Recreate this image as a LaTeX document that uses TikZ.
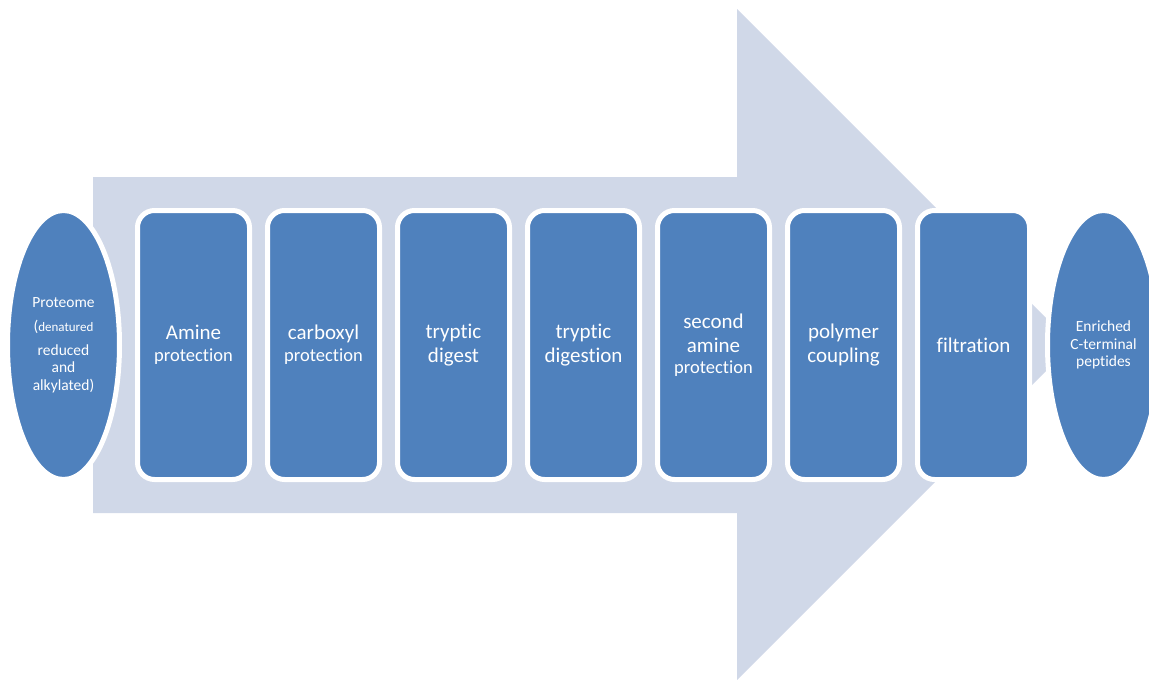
\documentclass[tikz,border=0pt]{standalone}
\usepackage{fontspec}
\setmainfont{Carlito}[Ligatures=NoCommon]
\usetikzlibrary{shapes.geometric}
\definecolor{stepblue}{HTML}{4F81BD}
\definecolor{flowgrey}{HTML}{D0D8E8}
\newcommand{\bigtxt}{\fontsize{21}{24}\selectfont}
\newcommand{\midtxt}{\fontsize{18.5}{22}\selectfont}
\newcommand{\ovaltxt}{\fontsize{15.5}{17.5}\selectfont}
\begin{document}
\begin{tikzpicture}[x=1pt,y=-1pt,
  stepbox/.style={rectangle, rounded corners=17pt, fill=stepblue, draw=white,
    line width=5pt, minimum width=112pt, minimum height=269pt, inner sep=0pt,
    text=white, align=center, font=\bigtxt},
  endoval/.style={ellipse, fill=stepblue, draw=white, line width=5pt,
    minimum width=112pt, minimum height=269pt, inner sep=0pt,
    text=white, align=center, font=\ovaltxt}]
\useasboundingbox (0,0) rectangle (1149,680);
% large process arrow behind the steps
\fill[flowgrey] (93,177) -- (737,177) -- (737,9) -- (1072.5,344.5)
  -- (737,680) -- (737,513) -- (93,513) -- cycle;
% start and end of the workflow
\node[endoval] (start) at (63.5,345)
  {Proteome\\[6.5pt](\fontsize{13}{17.5}\selectfont denatured\\[6.5pt]reduced\\and\\alkylated)};
\node[endoval] (finish) at (1103.5,345) {Enriched\\C-terminal\\peptides};
% the processing steps
\node[stepbox] (s1) at (193.5,345) {Amine\\[-2pt]{\midtxt protection}};
\node[stepbox] (s2) at (323.5,345) {carboxyl\\[-2pt]{\midtxt protection}};
\node[stepbox] (s3) at (453.5,345) {tryptic\\digest};
\node[stepbox] (s4) at (583.5,345) {tryptic\\digestion};
\node[stepbox] (s5) at (713.5,345) {second\\amine\\[-3pt]{\midtxt protection}};
\node[stepbox] (s6) at (843.5,345) {polymer\\coupling};
\node[stepbox] (s7) at (973.5,345) {filtration};
\end{tikzpicture}
\end{document}
